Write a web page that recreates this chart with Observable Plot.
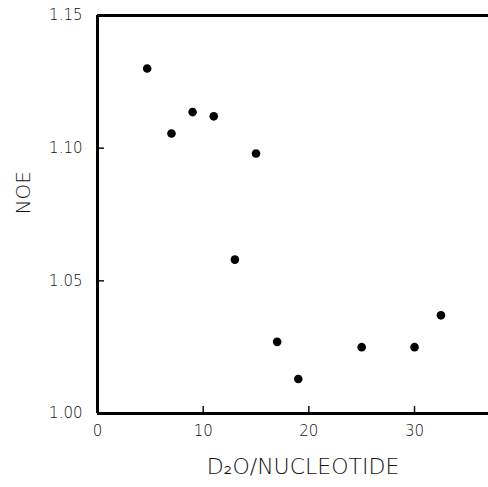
<!DOCTYPE html>
<html>
<head>
<meta charset="utf-8">
<script src="https://cdn.jsdelivr.net/npm/d3@7"></script>
<script src="https://cdn.jsdelivr.net/npm/@observablehq/plot@0.6"></script>
<style>
  html, body { margin: 0; padding: 0; background: #fff; }
  #chart svg { display: block; }
</style>
</head>
<body>
<div id="chart"></div>
<script>
// Data
const d2oPerNucleotide = [4.7, 7, 9, 11, 13, 15, 17, 19, 25, 30, 32.5];
const noeValues = [1.130, 1.1055, 1.1136, 1.112, 1.058, 1.098, 1.027, 1.013, 1.025, 1.025, 1.037];
const xTicks = [0, 10, 20, 30];
const yTicks = [1.00, 1.05, 1.10, 1.15];
const xTitle = "D\u2082O/NUCLEOTIDE";
const yTitle = "NOE";

const points = d2oPerNucleotide.map((x, i) => ({x, y: noeValues[i]}));
const font = "'DejaVu Sans', sans-serif";

const chart = Plot.plot({
  width: 488,
  height: 487,
  marginLeft: 97,
  marginRight: 0,
  marginTop: 15,
  marginBottom: 74,
  x: {domain: [0, 37]},
  y: {domain: [1.0, 1.15]},
  style: {fontFamily: font, background: "#fff", color: "#111"},
  marks: [
    // text-only axes
    Plot.axisX(xTicks, {tickSize: 0, tickPadding: 12, fontSize: 15, fontWeight: 300, label: null}),
    Plot.axisY(yTicks, {tickSize: 0, tickPadding: 15, fontSize: 15, fontWeight: 300, tickFormat: d3.format(".2f"), label: null}),
    // inward ticks
    Plot.axisX(xTicks, {tickSize: 7, dy: -7, strokeWidth: 1.5, tickFormat: () => "", label: null}),
    Plot.axisY(yTicks, {tickSize: 7, dx: 7, strokeWidth: 1.5, tickFormat: () => "", label: null}),
    // frame (left, bottom, top)
    Plot.ruleX([0], {strokeWidth: 3, stroke: "#000"}),
    Plot.ruleY([1.0, 1.15], {strokeWidth: 3, stroke: "#000"}),
    // data
    Plot.dot(points, {x: "x", y: "y", r: 4.3, fill: "#000", stroke: null}),
    // titles
    Plot.text([xTitle], {frameAnchor: "bottom", dx: 10, dy: 60, fontSize: 22, fontWeight: 300, letterSpacing: 1.5, text: d => d, fill: "#111"}),
    Plot.text([yTitle], {frameAnchor: "left", dx: -74, rotate: -90, fontSize: 20, fontWeight: 300, letterSpacing: 2, text: d => d, fill: "#111"})
  ]
});
document.getElementById("chart").appendChild(chart);
</script>
</body>
</html>
